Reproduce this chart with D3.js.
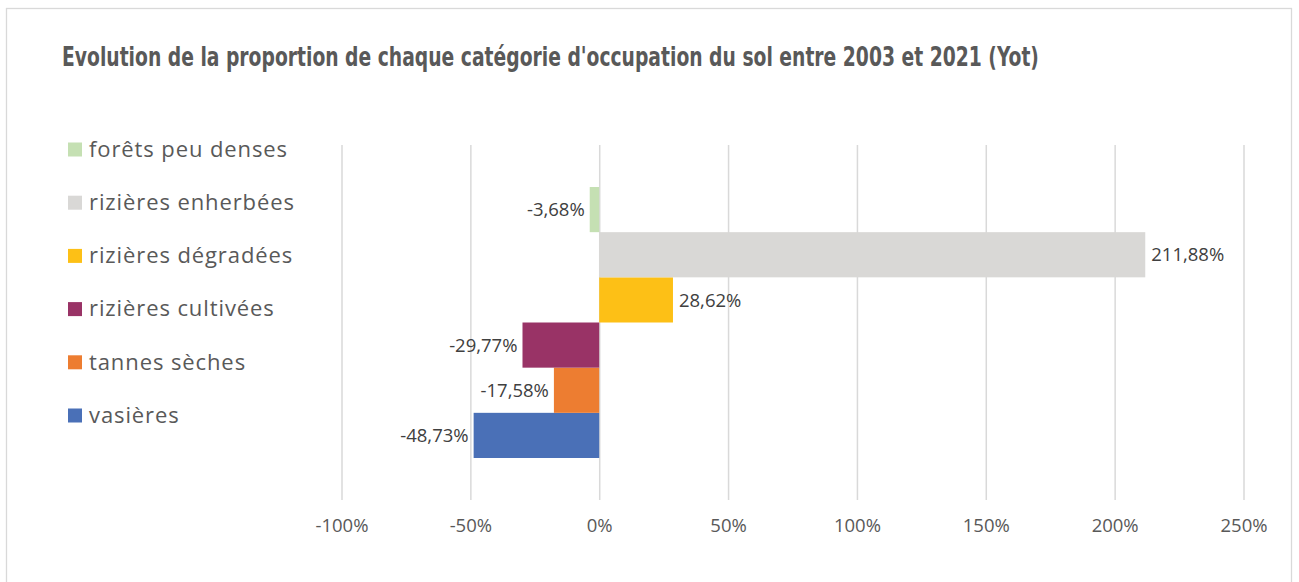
<!DOCTYPE html>
<html><head><meta charset="utf-8">
<script src="https://cdn.jsdelivr.net/npm/d3@7"></script>
<style>
html,body{margin:0;padding:0;background:#fff;}
svg{display:block;}
</style></head>
<body>
<svg id="chart" width="1299" height="582"></svg>
<script>
// ---- data ----
const title = "Evolution de la proportion de chaque catégorie d'occupation du sol entre 2003 et 2021 (Yot)";
const category = ["Yot"];
const seriesNames = ["vasières", "tannes sèches", "rizières cultivées", "rizières dégradées", "rizières enherbées", "forêts peu denses"];
const seriesValues = [-48.73, -17.58, -29.77, 28.62, 211.88, -3.68];
const seriesColors = ["#4a70b7", "#ed7d31", "#993366", "#fdc016", "#d9d8d6", "#c5e0b3"];
const tickValues = [-100, -50, 0, 50, 100, 150, 200, 250];

const loc = d3.formatLocale({decimal: ",", thousands: " ", grouping: [3], currency: ["", "€"], minus: "-"});
const fmtVal = v => loc.format(".2f")(v) + "%";
const fmtTick = v => loc.format("d")(v) + "%";

const svg = d3.select("#chart");

// outer border
svg.append("rect").attr("x", 6.5).attr("y", 8.5).attr("width", 1285).attr("height", 600)
  .attr("fill", "#fff").attr("stroke", "#d9d9d9").attr("stroke-width", 1.3);

// title: condensed horizontally to the reference span
const titleG = svg.append("g");
const titleText = titleG.append("text").attr("x", 0).attr("y", 0)
  .attr("font-family", "'DejaVu Sans Condensed', 'Liberation Sans Narrow', sans-serif")
  .attr("font-weight", "bold").attr("font-size", 27).attr("fill", "#595959")
  .text(title);
const natural = titleText.node().getComputedTextLength();
const targetW = 977;
titleG.attr("transform", `translate(62,66) scale(${Math.min(1, targetW / natural)},1)`);

const plot = {left: 341.5, right: 1243.5, top: 145, bottom: 500};
const x = d3.scaleLinear().domain([-100, 250]).range([plot.left, plot.right]);
const y0 = d3.scaleBand().domain(category).range([plot.top, plot.bottom]).paddingInner(0).paddingOuter(0.155);
// Excel draws first series at bottom
const y1 = d3.scaleBand().domain(seriesNames.slice().reverse()).range([0, y0.bandwidth()]).padding(0);

// gridlines via axis
const gAxis = svg.append("g").attr("transform", `translate(0,${plot.bottom})`)
  .call(d3.axisBottom(x).tickValues(tickValues).tickFormat(fmtTick).tickSize(-(plot.bottom - plot.top)).tickPadding(19));
gAxis.select(".domain").remove();
gAxis.selectAll(".tick line").attr("stroke", "#d9d9d9").attr("stroke-width", 1.5);
gAxis.selectAll(".tick text").attr("font-family", "'Open Sans', sans-serif").attr("font-size", 18.5)
  .attr("fill", "#595959");

const data = seriesNames.map((n, i) => ({name: n, value: seriesValues[i], color: seriesColors[i]}));

const gBars = svg.append("g").attr("transform", `translate(0,${y0("Yot")})`);
gBars.selectAll("rect").data(data).join("rect")
  .attr("x", d => x(Math.min(0, d.value)))
  .attr("width", d => Math.abs(x(d.value) - x(0)))
  .attr("y", d => y1(d.name))
  .attr("height", y1.bandwidth())
  .attr("fill", d => d.color);

gBars.selectAll("text").data(data).join("text")
  .attr("x", d => d.value < 0 ? x(d.value) - 5 : x(d.value) + 6)
  .attr("y", d => y1(d.name) + y1.bandwidth() / 2)
  .attr("dy", "0.36em")
  .attr("text-anchor", d => d.value < 0 ? "end" : "start")
  .attr("font-family", "'Open Sans', sans-serif").attr("font-size", 18.5).attr("fill", "#404040")
  .text(d => fmtVal(d.value));

// legend (top to bottom: reversed series order)
const legendOrder = seriesNames.slice().reverse();
const ly = d3.scalePoint().domain(legendOrder).range([149.5, 415.5]);
const gLeg = svg.append("g");
const li = gLeg.selectAll("g").data(legendOrder).join("g")
  .attr("transform", d => `translate(68,${ly(d)})`);
li.append("rect").attr("x", 0).attr("y", -7).attr("width", 14).attr("height", 14)
  .attr("fill", d => seriesColors[seriesNames.indexOf(d)]);
li.append("text").attr("x", 21).attr("y", 0).attr("dy", "0.33em")
  .attr("font-family", "'Open Sans', sans-serif").attr("font-size", 22).attr("letter-spacing", "0.9px")
  .attr("fill", "#595959")
  .text(d => d);
</script>
</body></html>
